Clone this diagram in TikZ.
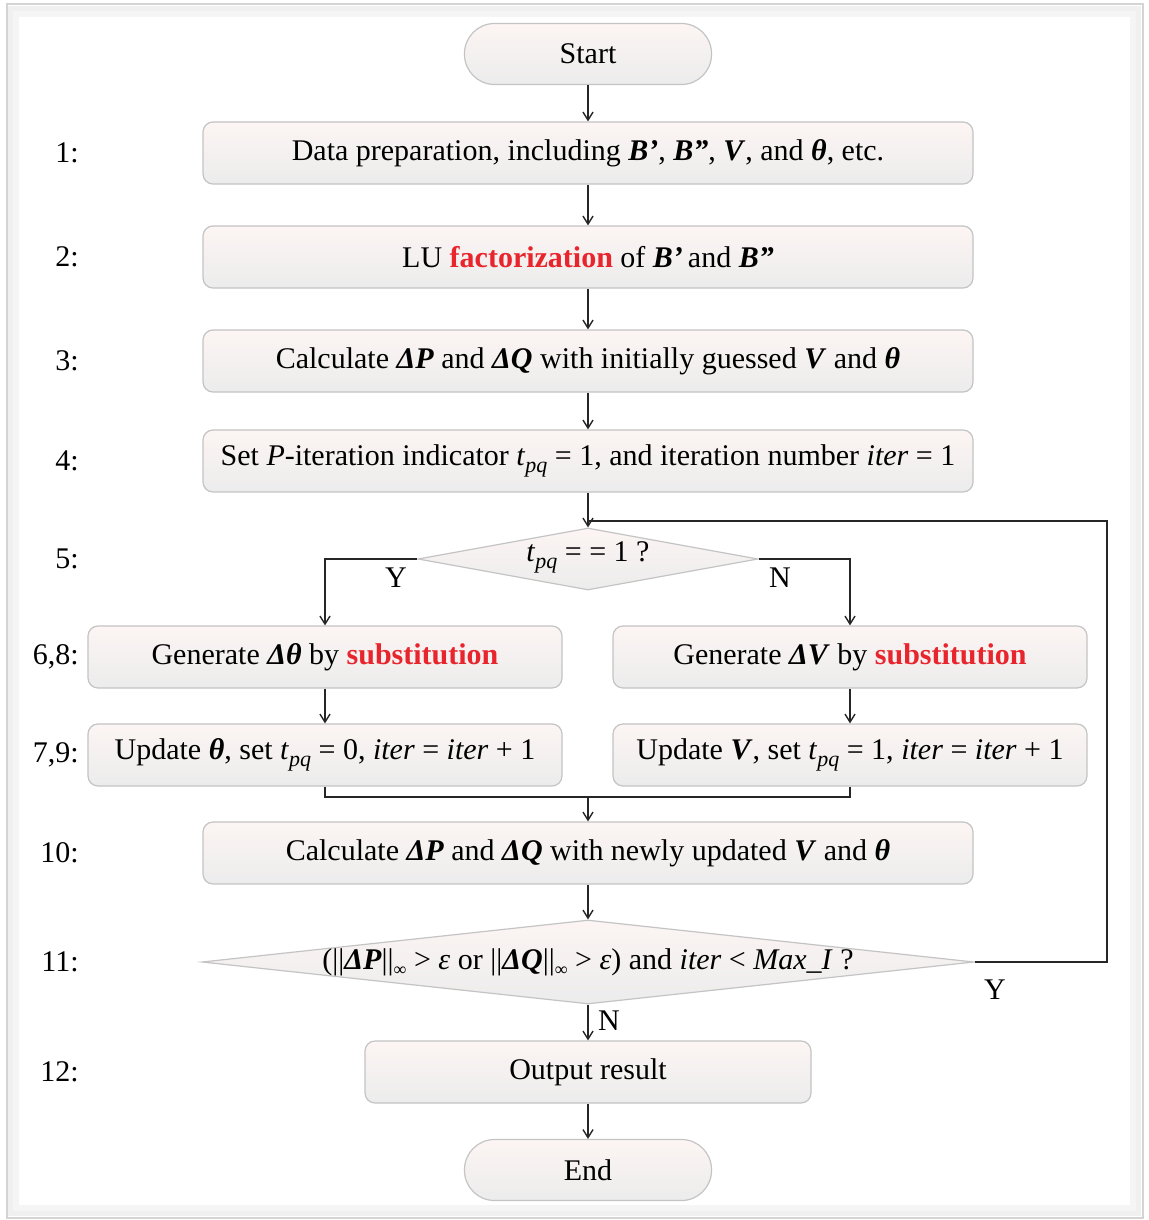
\documentclass[tikz,border=0pt]{standalone}
\usepackage{fontspec}
\setmainfont{Liberation Serif}
\usetikzlibrary{arrows.meta,shapes.geometric}
\definecolor{boxline}{HTML}{C4C4C4}
\definecolor{boxtop}{HTML}{FCF5F3}
\definecolor{boxbot}{HTML}{ECECEC}
\definecolor{hl}{HTML}{E8242C}
\definecolor{frameline}{HTML}{D4D4D4}

\newcommand\bi[1]{\textbf{\textit{#1}}}
\newcommand\tsub[1]{\raisebox{-0.5ex}{\fontsize{11}{10}\selectfont\textit{#1}}}
\newcommand\isub{\raisebox{-0.45ex}{\fontsize{9}{9}\selectfont ∞}}
\newcommand\tpq{\textit{t}\tsub{pq}}
\newcommand\hlt[1]{\textcolor{hl}{\textbf{#1}}}

\begin{document}
\begin{tikzpicture}[x=0.5pt,y=-0.5pt,
  every node/.style={font=\fontsize{15}{18}\selectfont},
  proc/.style={draw=boxline, line width=0.6pt, rounded corners=5pt,
    top color=boxtop, bottom color=boxbot, minimum height=31pt, inner sep=0pt},
  wide/.style={proc, minimum width=385pt},
  half/.style={proc, minimum width=237pt},
  outbox/.style={proc, minimum width=223pt},
  term/.style={proc, rounded corners=15pt, minimum width=123.5pt, minimum height=30.5pt},
  dec/.style={diamond, draw=boxline, line width=0.6pt, top color=boxtop,
    bottom color=boxbot, inner sep=0pt},
  lbl/.style={anchor=east, inner sep=0pt},
  yn/.style={inner sep=0pt},
  line/.style={line width=0.7pt, black!85},
  conn/.style={line, -{Straight Barb[length=4pt,width=5pt]}}]

\useasboundingbox (0,0) rectangle (1148,1220);

% outer frame with a soft inner shadow
\fill[white] (0,0) rectangle (1148,1220);
\draw[black!6, line width=4pt] (12,10) rectangle (1137,1212);
\draw[black!4, line width=3pt] (16,14) rectangle (1133,1208);
\draw[frameline, line width=1.2pt] (7,4) rectangle (1143,1218);

% main column
\node[term] (start) at (588,54) {Start};
\node[wide] (s1) at (588,153) {Data preparation, including \bi{B’}, \bi{B”}, \bi{V}, and \bi{θ}, etc.};
\node[wide] (s2) at (588,257) {LU \hlt{factorization} of \bi{B’}\,and \bi{B”}};
\node[wide] (s3) at (588,361) {Calculate \bi{ΔP} and \bi{ΔQ} with initially guessed \bi{V} and \bi{θ}};
\node[wide] (s4) at (588,461) {Set \textit{P}-iteration indicator \tpq{} = 1, and iteration number \textit{iter} = 1};
\node[dec, minimum width=170pt, minimum height=31pt] (d5) at (588,559) {};
\node at (588,557) (d5t) {\tpq{} = = 1 ?};

% branches
\node[half] (s6) at (325,657) {Generate \bi{Δθ} by \hlt{substitution}};
\node[half] (s8) at (850,657) {Generate \bi{ΔV} by \hlt{substitution}};
\node[half] (s7) at (325,755) {Update \bi{θ}, set \tpq{} = 0, \textit{iter} = \textit{iter} + 1};
\node[half] (s9) at (850,755) {Update \bi{V}, set \tpq{} = 1, \textit{iter} = \textit{iter} + 1};

\node[wide] (s10) at (588,853) {Calculate \bi{ΔP} and \bi{ΔQ} with newly updated \bi{V} and \bi{θ}};
\node[dec, minimum width=386pt, minimum height=42pt] (d11) at (588,962) {};
\node at (588,962) (d11t) {(||\bi{ΔP}||\isub{} > \textit{ε} or ||\bi{ΔQ}||\isub{} > \textit{ε}) and \textit{iter} < \textit{Max\_I} ?};
\node[outbox] (out) at (588,1072) {Output result};
\node[term] (end) at (588,1170) {End};

% step numbers
\node[lbl] (n1) at (79,153) {1:};
\node[lbl] (n2) at (79,257) {2:};
\node[lbl] (n3) at (79,361) {3:};
\node[lbl] (n4) at (79,461) {4:};
\node[lbl] (n5) at (79,559) {5:};
\node[lbl] (n6) at (79,657) {6,8:};
\node[lbl] (n7) at (79,755) {7,9:};
\node[lbl] (n10) at (79,853) {10:};
\node[lbl] (n11) at (79,962) {11:};
\node[lbl] (n12) at (79,1072) {12:};

% connectors
\draw[conn] (start) -- (s1);
\draw[conn] (s1) -- (s2);
\draw[conn] (s2) -- (s3);
\draw[conn] (s3) -- (s4);
\draw[conn] (s4) -- (d5);
\draw[conn] (d5.west) -| (s6.north);
\draw[conn] (d5.east) -| (s8.north);
\draw[conn] (s6) -- (s7);
\draw[conn] (s8) -- (s9);
\coordinate (m) at (588,797);
\draw[line] (s7.south) |- (m) -| (s9.south);
\draw[conn] (m) -- (s10);
\draw[conn] (s10) -- (d11);
\coordinate (rt) at (1107,521);
\coordinate (j) at (588,521);
\draw[line] (d11.east) -| (rt) -- (j);
\draw[conn] (d11) -- (out);
\draw[conn] (out) -- (end);

% branch labels
\node[yn] (y5) at (396,578) {Y};
\node[yn] (n5b) at (780,578) {N};
\node[yn] (y11) at (995,990) {Y};
\node[yn] (n11b) at (609,1021) {N};
\end{tikzpicture}
\end{document}
